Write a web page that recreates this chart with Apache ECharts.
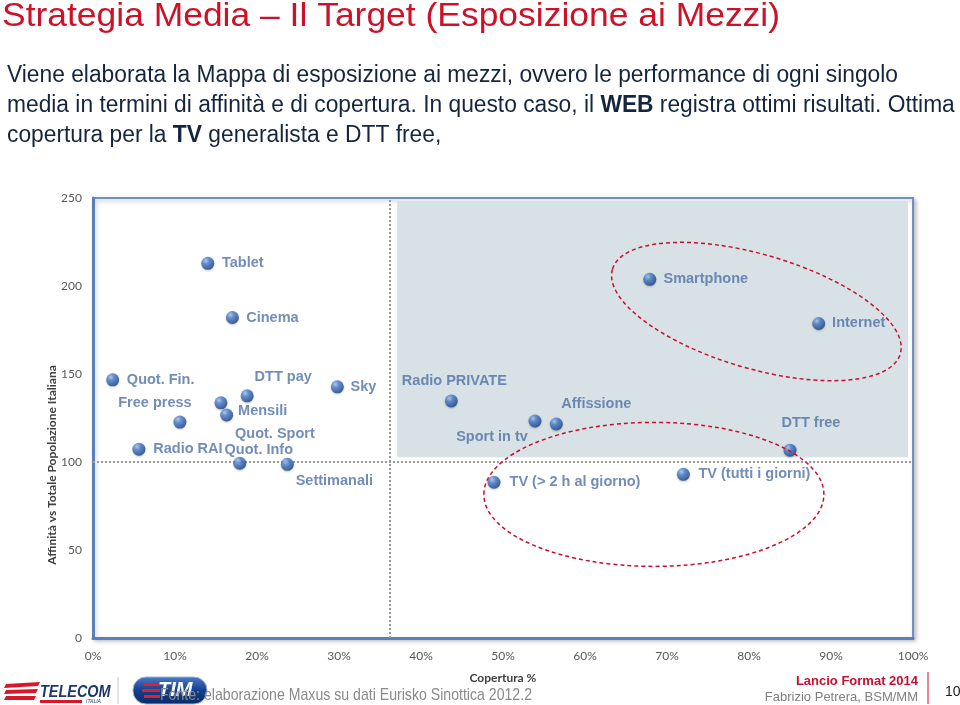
<!DOCTYPE html>
<html>
<head>
<meta charset="utf-8">
<script src="https://cdn.jsdelivr.net/npm/echarts@6/dist/echarts.min.js"></script>
<style>
html,body{margin:0;padding:0;background:#fff;}
#chart{width:960px;height:705px;}
</style>
</head>
<body>
<div id="chart"></div>
<script>
// ---- data ----
const mediaNames = ['Tablet','Cinema','Smartphone','Internet','Quot. Fin.','DTT pay','Sky','Free press','Mensili','Quot. Sport','Radio RAI','Quot. Info','Settimanali','Radio PRIVATE','Sport in tv','Affissione','DTT free','TV (tutti i giorni)','TV (> 2 h al giorno)'];
const coverage = [14.0, 17.0, 67.9, 88.5, 2.4, 18.8, 29.8, 10.6, 16.3, 15.6, 5.6, 17.9, 23.7, 43.7, 53.9, 56.5, 85.0, 72.0, 48.9];
const affinity = [212.9, 182.1, 203.8, 178.7, 146.7, 137.6, 142.7, 122.7, 126.7, 133.6, 107.3, 99.3, 98.7, 134.7, 123.3, 121.6, 106.7, 93.0, 88.5];
const xTickLabels = ['0%','10%','20%','30%','40%','50%','60%','70%','80%','90%','100%'];
const yTicks = [0, 50, 100, 150, 200, 250];
const coverageThreshold = 36.2;   // vertical dotted reference
const affinityThreshold = 100;     // horizontal dotted reference
const highlightZone = [[37.1, 102.7], [99.4, 248.3]];

// ---- layout config (label placement, px offsets from marker centre) ----
const labelOffsets = {
  'Tablet':[35,0], 'Cinema':[40,0], 'Smartphone':[56,0], 'Internet':[40,0],
  'Quot. Fin.':[48,0], 'DTT pay':[36,-19], 'Sky':[26,0], 'Free press':[-25,-19],
  'Mensili':[36,-4], 'Quot. Sport':[54,31], 'Radio RAI':[49,0], 'Quot. Info':[19,-13],
  'Settimanali':[47,17], 'Radio PRIVATE':[3,-20], 'Sport in tv':[-43,16],
  'Affissione':[40,-20], 'DTT free':[21,-27], 'TV (tutti i giorni)':[71,0],
  'TV (> 2 h al giorno)':[81,0]
};

const chart = echarts.init(document.getElementById('chart'), null, {renderer:'canvas'});

const markerColor = new echarts.graphic.RadialGradient(0.35, 0.3, 0.75, [
  {offset:0, color:'#a9c8f2'},
  {offset:0.35, color:'#4a80cf'},
  {offset:1, color:'#173f80'}
]);

const seriesData = mediaNames.map((n, i) => ({
  name: n,
  value: [coverage[i], affinity[i]],
  label: {offset: labelOffsets[n] || [40,0]}
}));

const axisLabelStyle = {color:'#595959', fontFamily:'Lato', fontSize:12};

const option = {
  animation: false,
  backgroundColor: '#fff',
  grid: {
    left: 93, right: 47, top: 198, bottom: 67,
    show: true, backgroundColor: '#fff',
    borderColor: '#6f90c3', borderWidth: 2,
    shadowColor: 'rgba(0,0,0,0.25)', shadowBlur: 4, shadowOffsetX: 2, shadowOffsetY: 2,
    outerBoundsMode: 'none'
  },
  xAxis: {
    type: 'value', min: 0, max: 100, interval: 10,
    name: 'Copertura %', nameLocation: 'middle', nameGap: 34,
    nameTextStyle: {color:'#404040', fontFamily:'Lato', fontWeight:'bold', fontSize:12},
    axisLine: {show:true, lineStyle:{color:'#5b80b8', width:3}},
    axisTick: {show:false},
    splitLine: {show:false},
    axisLabel: Object.assign({margin:12, formatter: v => xTickLabels[Math.round(v/10)]}, axisLabelStyle)
  },
  yAxis: {
    type: 'value', min: yTicks[0], max: yTicks[yTicks.length-1], interval: 50,
    axisLine: {show:true, lineStyle:{color:'#5b80b8', width:3}},
    axisTick: {show:false},
    splitLine: {show:false},
    axisLabel: Object.assign({margin:11}, axisLabelStyle)
  },
  series: [{
    type: 'scatter',
    symbol: 'circle',
    symbolSize: 13,
    z: 5,
    itemStyle: {color: markerColor, shadowColor:'rgba(0,0,0,0.3)', shadowBlur:2, shadowOffsetY:1},
    label: {
      show: true, position: 'inside', formatter: '{b}',
      color: '#4f70a6', fontFamily: 'Liberation Sans', fontWeight: 'bold', fontSize: 14.5
    },
    emphasis: {disabled: true},
    data: seriesData,
    markArea: {
      silent: true,
      itemStyle: {color: '#d8e1e5'},
      data: [[{coord: highlightZone[0]}, {coord: highlightZone[1]}]]
    },
    markLine: {
      silent: true, symbol: 'none',
      label: {show:false},
      lineStyle: {color:'#9a9a9a', type:'dotted', width:2},
      data: [{xAxis: coverageThreshold}, {yAxis: affinityThreshold}]
    }
  }]
};
chart.setOption(option);

// ---- annotations: ellipses anchored in data space ----
const ellipses = [
  {center:[80.9, 185.5], rx:150, ry:57, angleDeg:-16.4},
  {center:[68.4, 81.6], rx:170, ry:72, angleDeg:0}
];
const ellipseGraphics = ellipses.map(e => {
  const p = chart.convertToPixel({gridIndex:0}, e.center);
  return {
    type:'ellipse', x:p[0], y:p[1], rotation: e.angleDeg*Math.PI/180,
    shape:{cx:0, cy:0, rx:e.rx, ry:e.ry}, z: 10, silent:true,
    style:{fill:null, stroke:'#c8102e', lineWidth:1.5, lineDash:[4,3]}
  };
});

// condensed look: Liberation Sans horizontally compressed to the reference widths
const mctx = document.createElement('canvas').getContext('2d');
function fitScale(text, font, target) {
  mctx.font = font;
  return target / mctx.measureText(text).width;
}
const titleText = 'Strategia Media \u2013 Il Target (Esposizione ai Mezzi)';
const titleFont = '34px "Liberation Sans"';
const titleScale = fitScale(titleText, titleFont, 778);
const line1 = 'Viene elaborata la Mappa di esposizione ai mezzi, ovvero le performance di ogni singolo';
const bodyFont = '23.5px "Liberation Sans"';
const bodyScale = fitScale(line1, bodyFont, 891);
const sourceText = 'Fonte: elaborazione Maxus su dati Eurisko Sinottica 2012.2';
const sourceFont = '17px "Liberation Sans"';
const sourceScale = fitScale(sourceText, sourceFont, 372);

const bodyColor = '#14253d';
const bodyRich = {b:{fontWeight:'bold', fontFamily:'Liberation Sans', fontSize:23.5, fill:bodyColor}};
function bodyLine(text, y) {
  return {type:'text', x:7, y:y, scaleX:bodyScale, style:{text:text, fontFamily:'Liberation Sans', fontSize:23.5, fill:bodyColor, verticalAlign:'middle', rich:bodyRich}};
}

chart.setOption({
  graphic: [
    ...ellipseGraphics,
    {type:'text', x:2, y:17, scaleX:titleScale, style:{text:titleText, font:titleFont, fill:'#cc1128', verticalAlign:'middle'}},
    bodyLine(line1, 76),
    bodyLine('media in termini di affinità e di copertura. In questo caso, il {b|WEB} registra ottimi risultati. Ottima', 106),
    bodyLine('copertura per la {b|TV} generalista e DTT free,', 136),
    // y axis name
    {type:'text', x:52, y:465, rotation:Math.PI/2, style:{text:'Affinità vs Totale Popolazione Italiana', fontFamily:'Lato', fontWeight:'bold', fontSize:12, fill:'#404040', align:'center', verticalAlign:'middle'}},
    // Telecom logo
    {type:'group', x:0, y:0, children:[
      {type:'polygon', shape:{points:[[6,684],[40,682],[38,686],[4,688]]}, style:{fill:'#d7182a'}},
      {type:'polygon', shape:{points:[[6,690],[38,689],[36,693],[4,694]]}, style:{fill:'#d7182a'}},
      {type:'polygon', shape:{points:[[6,696],[36,696],[34,700],[4,700]]}, style:{fill:'#d7182a'}},
      {type:'text', x:40, y:692, scaleX:0.85, style:{text:'TELECOM', font:'italic bold 17px "Liberation Sans"', fill:'#1f3766', verticalAlign:'middle'}},
      {type:'rect', shape:{x:40, y:700, width:42, height:3}, style:{fill:'#d7182a'}},
      {type:'text', x:86, y:701.5, style:{text:'ITALIA', font:'italic 5px "Liberation Sans"', fill:'#1f3766', verticalAlign:'middle'}}
    ]},
    {type:'line', shape:{x1:118, y1:677, x2:118, y2:704}, style:{stroke:'#cccccc', lineWidth:1}},
    // TIM logo
    {type:'group', children:[
      {type:'rect', shape:{x:133, y:677, width:74, height:27, r:13}, style:{fill:new echarts.graphic.LinearGradient(0,0,0,1,[{offset:0,color:'#4d7cc8'},{offset:0.5,color:'#123f8f'},{offset:1,color:'#0a2a66'}]), stroke:'#9fb4d6', lineWidth:1}},
      {type:'rect', shape:{x:144, y:683, width:16, height:3}, style:{fill:'#e0202f'}},
      {type:'rect', shape:{x:142, y:689, width:18, height:3}, style:{fill:'#e0202f'}},
      {type:'rect', shape:{x:144, y:695, width:16, height:3}, style:{fill:'#e0202f'}},
      {type:'text', x:158, y:690, style:{text:'TIM', font:'italic bold 20px "Liberation Sans"', fill:'#ffffff', verticalAlign:'middle'}}
    ]},
    {type:'text', x:160, y:695, scaleX:sourceScale, style:{text:sourceText, font:sourceFont, fill:'#8a8a8a', verticalAlign:'middle'}},
    {type:'text', x:918, y:681, style:{text:'Lancio Format 2014', fontFamily:'Liberation Sans', fontWeight:'bold', fontSize:13, fill:'#c8102e', align:'right', verticalAlign:'middle'}},
    {type:'text', x:918, y:697, style:{text:'Fabrizio Petrera, BSM/MM', fontFamily:'Liberation Sans', fontSize:13, fill:'#808080', align:'right', verticalAlign:'middle'}},
    {type:'line', shape:{x1:928, y1:672, x2:928, y2:704}, style:{stroke:'#c8102e', lineWidth:1}},
    {type:'text', x:945, y:692, style:{text:'10', fontFamily:'Liberation Sans', fontSize:14, fill:'#222', verticalAlign:'middle'}}
  ]
});
</script>
</body>
</html>
